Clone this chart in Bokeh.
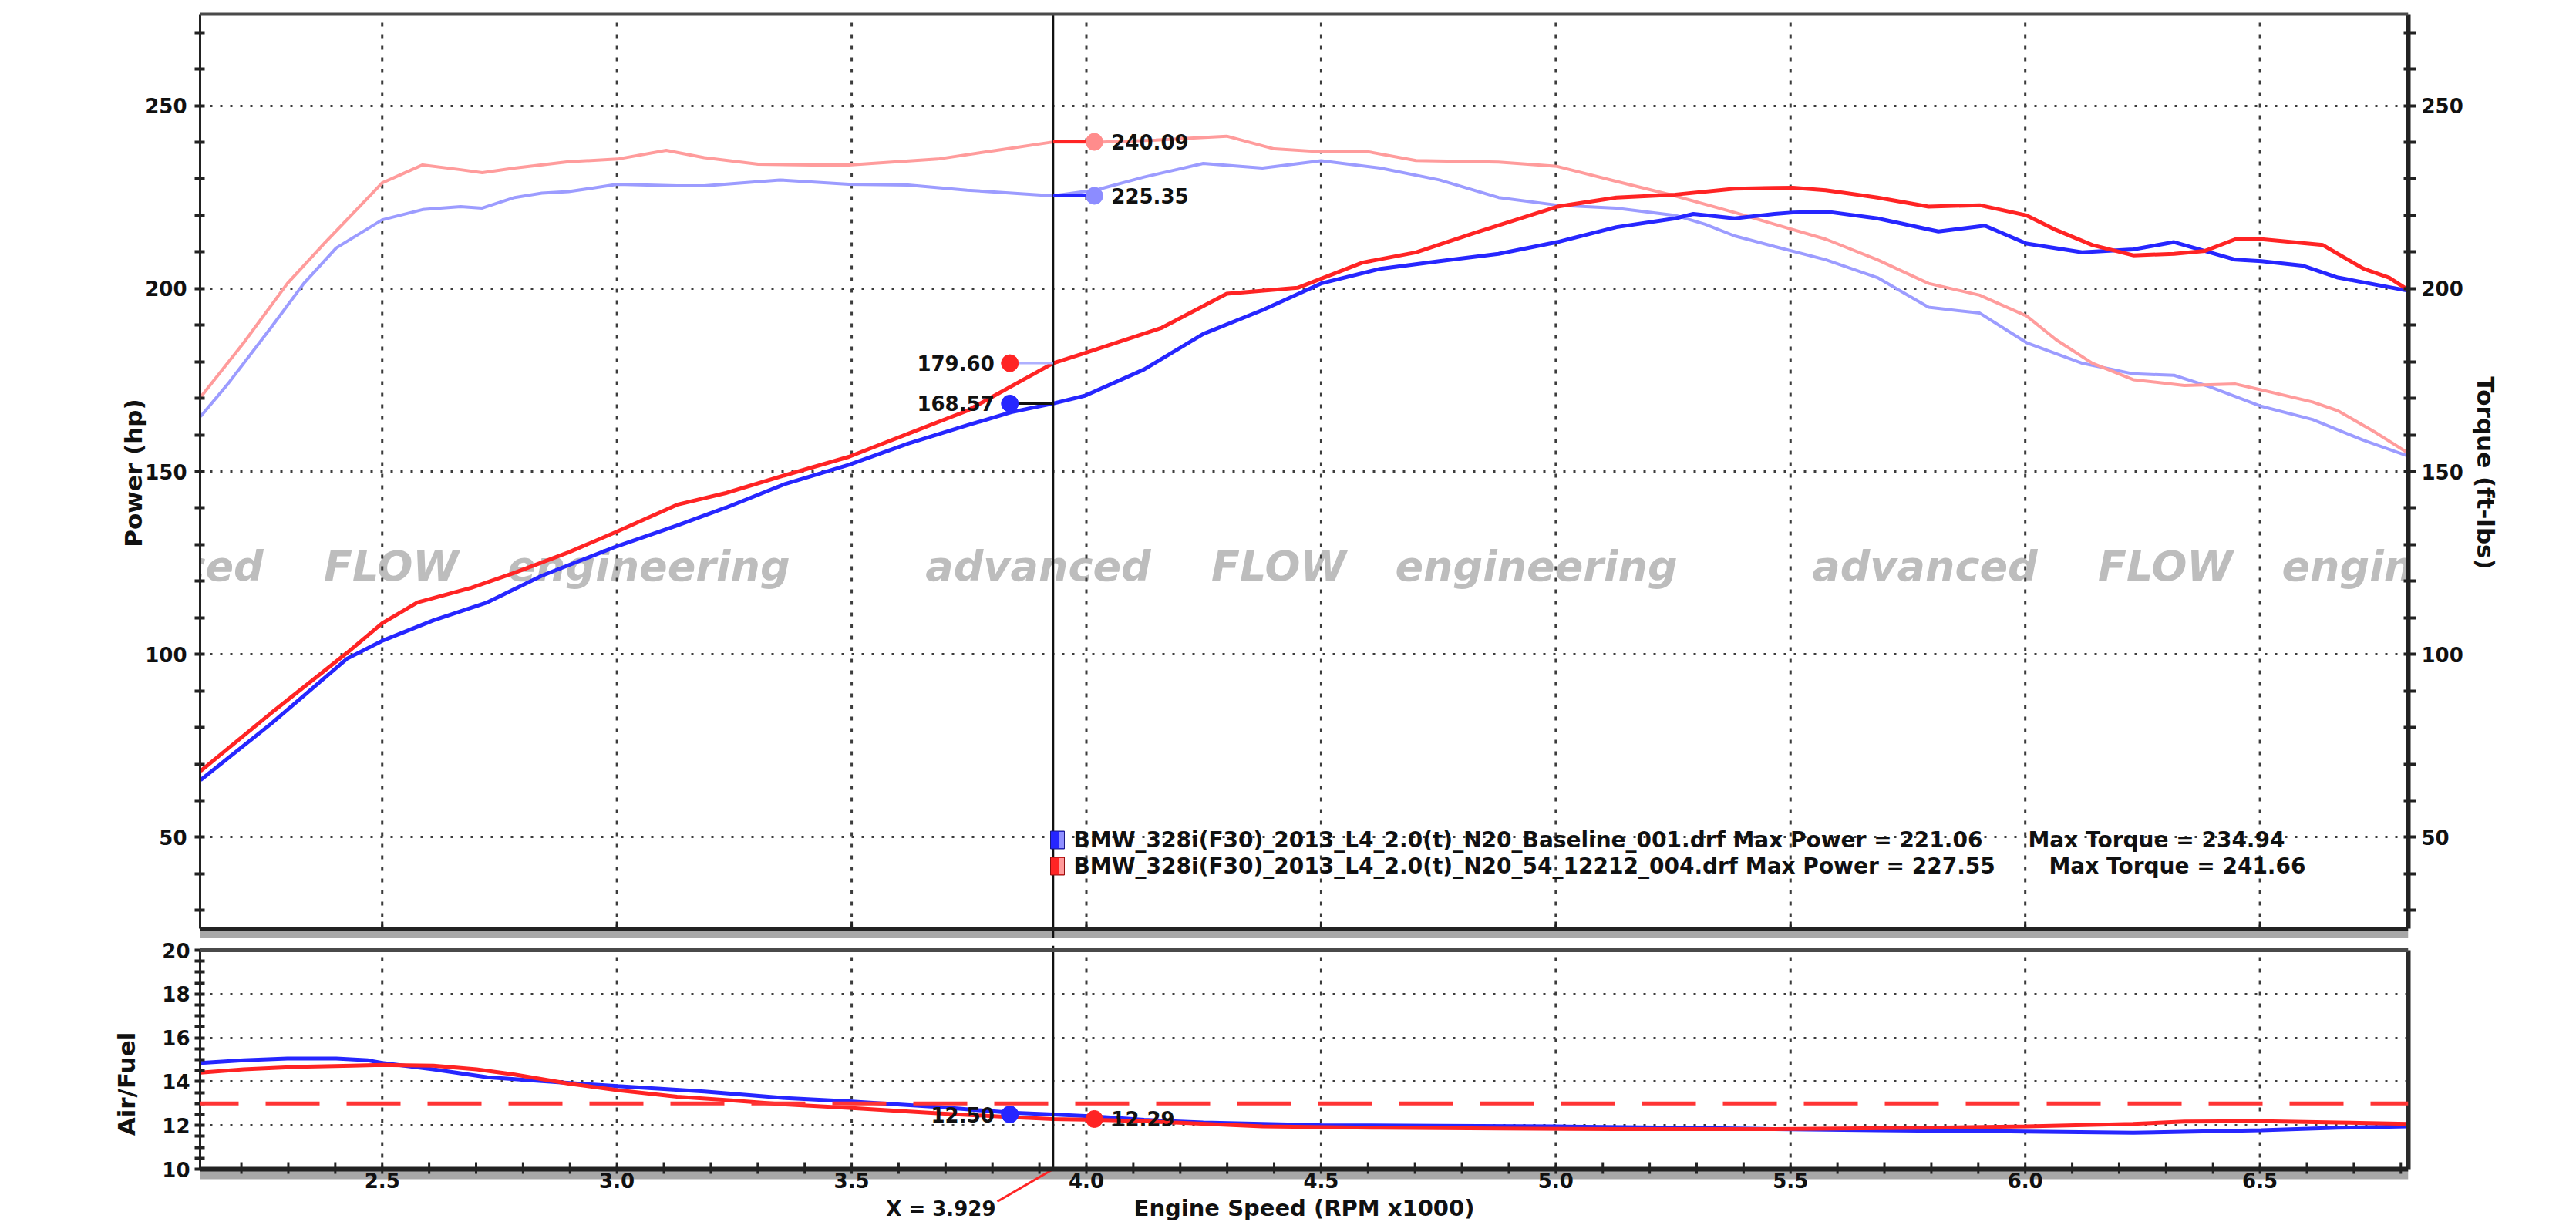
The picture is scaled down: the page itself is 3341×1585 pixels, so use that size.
from bokeh.plotting import figure
from bokeh.layouts import column
from bokeh.models import (Range1d, LinearAxis, FixedTicker, Span, Label, BoxAnnotation)
from bokeh.core.properties import value
from bokeh.embed import file_html
from bokeh.resources import INLINE

FONT = "DejaVu Sans"

# ---------------- data ----------------
rpm_hp_base = [2.113, 2.263, 2.425, 2.50, 2.609, 2.724, 2.840, 3.001, 3.128, 3.232, 3.359, 3.494,
               3.620, 3.746, 3.840, 3.929, 3.997, 4.123, 4.249, 4.375, 4.500, 4.626, 4.752, 4.878,
               5.003, 5.129, 5.255, 5.293, 5.381, 5.466, 5.505, 5.575, 5.685, 5.815, 5.914, 6.003,
               6.121, 6.230, 6.317, 6.448, 6.503, 6.590, 6.666, 6.816]
hp_base = [65.6, 81.0, 98.8, 103.7, 109.3, 114.2, 121.5, 129.6, 135.2, 140.1, 146.6, 151.8,
           157.6, 162.6, 166.2, 168.57, 170.7, 177.9, 187.6, 194.1, 201.4, 205.4, 207.5, 209.5,
           212.7, 216.8, 219.2, 220.4, 219.2, 220.4, 220.8, 221.06, 219.2, 215.6, 217.2, 212.3,
           209.9, 210.7, 212.7, 207.9, 207.5, 206.3, 203.0, 199.4]

rpm_hp_mod = [2.113, 2.263, 2.425, 2.50, 2.575, 2.690, 2.782, 2.897, 3.001, 3.128, 3.232, 3.359,
              3.494, 3.620, 3.746, 3.929, 3.997, 4.161, 4.299, 4.450, 4.588, 4.702, 4.827, 5.003,
              5.129, 5.255, 5.381, 5.466, 5.505, 5.575, 5.685, 5.794, 5.903, 6.003, 6.066, 6.143,
              6.230, 6.317, 6.383, 6.448, 6.503, 6.634, 6.721, 6.775, 6.816]
hp_mod = [68.1, 83.9, 100.4, 108.5, 114.2, 118.2, 122.3, 127.9, 133.6, 140.9, 144.1, 149.0,
          154.0, 160.3, 166.6, 179.60, 182.4, 189.3, 198.6, 200.2, 207.1, 209.9, 215.2, 222.4,
          224.9, 225.7, 227.3, 227.5, 227.55, 226.9, 224.9, 222.4, 222.8, 220.0, 216.0, 211.9,
          209.1, 209.5, 210.3, 213.5, 213.5, 211.9, 205.4, 203.0, 199.6]

rpm_tq_base = [2.113, 2.171, 2.263, 2.333, 2.402, 2.5, 2.586, 2.667, 2.713, 2.782, 2.840, 2.897,
               3.001, 3.128, 3.186, 3.347, 3.494, 3.620, 3.746, 3.929, 4.022, 4.123, 4.249, 4.375,
               4.500, 4.626, 4.752, 4.878, 5.003, 5.129, 5.255, 5.318, 5.381, 5.466, 5.575, 5.685,
               5.794, 5.903, 6.003, 6.121, 6.230, 6.317, 6.394, 6.503, 6.612, 6.721, 6.816]
tq_base = [165.0, 173.9, 189.3, 201.4, 211.1, 218.8, 221.6, 222.4, 222.0, 224.9, 226.1, 226.5,
           228.5, 228.1, 228.1, 229.7, 228.5, 228.3, 226.9, 225.35, 227.0, 230.5, 234.2, 232.95,
           234.94, 232.95, 229.7, 224.9, 222.8, 222.0, 220.0, 217.6, 214.4, 211.5, 207.9, 203.0,
           194.9, 193.3, 185.2, 179.6, 176.7, 176.3, 173.1, 167.8, 164.2, 158.5, 154.2]

rpm_tq_mod = [2.113, 2.205, 2.298, 2.379, 2.5, 2.586, 2.667, 2.713, 2.782, 2.897, 3.001, 3.105,
              3.186, 3.301, 3.416, 3.494, 3.683, 3.809, 3.929, 4.022, 4.148, 4.299, 4.400, 4.500,
              4.601, 4.702, 4.878, 5.003, 5.129, 5.255, 5.381, 5.466, 5.575, 5.685, 5.794, 5.903,
              6.003, 6.066, 6.143, 6.230, 6.339, 6.448, 6.503, 6.612, 6.666, 6.743, 6.816]
tq_mod = [170.3, 185.2, 201.4, 212.7, 228.9, 233.8, 232.5, 231.7, 232.95, 234.7, 235.4, 237.8,
          235.8, 234.0, 233.8, 233.8, 235.4, 237.8, 240.09, 240.0, 240.6, 241.66, 238.2, 237.4,
          237.4, 235.0, 234.6, 233.4, 229.3, 225.3, 220.8, 217.6, 213.5, 207.9, 201.4, 198.2,
          192.5, 186.0, 179.6, 175.1, 173.5, 173.9, 172.3, 169.0, 166.6, 160.9, 155.0]

rpm_afr_base = [2.113, 2.205, 2.298, 2.402, 2.47, 2.5, 2.609, 2.724, 2.840, 3.001, 3.186, 3.359,
                3.494, 3.683, 3.840, 3.929, 4.022, 4.123, 4.249, 4.500, 4.752, 5.003, 5.255, 5.466,
                5.685, 6.003, 6.230, 6.503, 6.666, 6.816]
afr_base = [14.85, 14.97, 15.05, 15.05, 14.97, 14.85, 14.56, 14.20, 14.02, 13.79, 13.55, 13.25,
            13.10, 12.84, 12.58, 12.50, 12.40, 12.25, 12.13, 12.01, 11.98, 11.95, 11.89, 11.83,
            11.78, 11.72, 11.66, 11.78, 11.89, 11.95]

rpm_afr_mod = [2.113, 2.205, 2.321, 2.436, 2.5, 2.609, 2.701, 2.782, 2.897, 3.001, 3.128, 3.243,
               3.359, 3.494, 3.683, 3.840, 3.929, 4.022, 4.123, 4.375, 4.626, 4.878, 5.129, 5.466,
               5.794, 6.003, 6.230, 6.339, 6.503, 6.666, 6.816]
afr_mod = [14.41, 14.56, 14.67, 14.73, 14.76, 14.73, 14.56, 14.32, 13.91, 13.61, 13.31, 13.14,
           12.96, 12.80, 12.55, 12.38, 12.29, 12.25, 12.19, 11.95, 11.89, 11.86, 11.83, 11.83,
           11.89, 11.95, 12.07, 12.17, 12.19, 12.13, 12.07]

afr_target = 13.0
cursor_x = 3.929
cursor_hp = [179.60, 168.57]          # modified run, baseline run
cursor_tq = [240.09, 225.35]          # modified run, baseline run
cursor_afr = [12.50, 12.29]           # baseline run, modified run

run_files = ["BMW_328i(F30)_2013_L4_2.0(t)_N20_Baseline_001.drf",
             "BMW_328i(F30)_2013_L4_2.0(t)_N20_54_12212_004.drf"]
max_power = [221.06, 227.55]
max_torque = [234.94, 241.66]

x_major = [2.5, 3.0, 3.5, 4.0, 4.5, 5.0, 5.5, 6.0, 6.5]
x_minor = [round(2.2 + 0.1 * i, 1) for i in range(47) if round(2.2 + 0.1 * i, 1) not in x_major]
power_major = [50, 100, 150, 200, 250]
power_minor = [30, 40, 60, 70, 80, 90, 110, 120, 130, 140, 160, 170, 180, 190,
               210, 220, 230, 240, 260, 270]
afr_major = [10, 12, 14, 16, 18, 20]
afr_minor = [10.5, 11, 11.5, 12.5, 13, 13.5, 14.5, 15, 15.5, 16.5, 17, 17.5, 18.5, 19, 19.5]
afr_grid = [12, 14, 16, 18]

X0, X1 = 2.112, 6.816
P0, P1 = 25, 275
A0, A1 = 10, 20

# ---------------- colours ----------------
RED = "#ff2424"
BLUE = "#2626ff"
LRED = "#ff9c9c"
LBLUE = "#9c9cff"
GRID = "#3c3c3c"
INK = "#111111"

# ---------------- layout (page pixels) ----------------
W = 3341
FRAME_L, FRAME_R = 259, 3123
TOP_T, TOP_B = 18, 1204          # power panel box
AFR_T, AFR_B = 1232, 1516        # air/fuel panel box
C1_T, C1_B = 10, 1216            # frame of figure 1 (slightly larger than the box)
C2_T, C2_B = 1226, 1585          # frame of figure 2 (includes the x-axis area)

PPU_P = (TOP_B - TOP_T) / (P1 - P0)
PPU_A = (AFR_B - AFR_T) / (A1 - A0)


def px2x(px):
    return X0 + (px - FRAME_L) * (X1 - X0) / (FRAME_R - FRAME_L)


def py2p(py):
    return P1 - (py - TOP_T) / PPU_P


def py2a(py):
    return A1 - (py - AFR_T) / PPU_A


def style_text(**kw):
    d = dict(text_font=value(FONT), text_font_style="bold", text_color=INK,
             text_font_size="26px")
    d.update(kw)
    return d


def style_axis(a, tick_out=7, tick_in=6, width=3):
    a.major_label_text_font = FONT
    a.major_label_text_font_style = "bold"
    a.major_label_text_font_size = "26px"
    a.major_label_text_color = INK
    a.axis_label_text_font = FONT
    a.axis_label_text_font_style = "bold"
    a.axis_label_text_font_size = "31px"
    a.axis_label_text_color = INK
    a.major_tick_in = tick_in
    a.major_tick_out = tick_out
    a.minor_tick_in = tick_in
    a.minor_tick_out = tick_out
    a.major_tick_line_width = 4
    a.minor_tick_line_width = 4
    a.major_tick_line_color = "#222222"
    a.minor_tick_line_color = "#222222"
    a.axis_line_width = width
    a.axis_line_color = "#222222"


# ================= power / torque panel =================
p1 = figure(frame_width=FRAME_R - FRAME_L, frame_height=C1_B - C1_T,
            min_border_left=FRAME_L, min_border_right=W - FRAME_R,
            min_border_top=C1_T, min_border_bottom=0,
            x_range=Range1d(X0, X1),
            y_range=Range1d(py2p(C1_B), py2p(C1_T)),
            x_axis_location=None,
            output_backend="svg", toolbar_location=None)
p1.extra_y_ranges = {"torque": Range1d(py2p(C1_B), py2p(C1_T))}
p1.outline_line_color = None
p1.background_fill_color = "white"
p1.border_fill_color = "white"

ya = p1.yaxis[0]
ya.ticker = FixedTicker(ticks=power_major, minor_ticks=power_minor)
ya.bounds = (P0, P1)
ya.axis_label = "Power (hp)"
style_axis(ya)
ya.major_label_standoff = 10
ya.axis_label_standoff = -6

yr = LinearAxis(y_range_name="torque", axis_label="Torque (ft-lbs)",
                ticker=FixedTicker(ticks=power_major, minor_ticks=power_minor))
yr.bounds = (P0, P1)
style_axis(yr, tick_out=10, width=6)
yr.major_label_standoff = 7
yr.axis_label_standoff = 8
p1.add_layout(yr, "right")

p1.xgrid.visible = False
p1.ygrid.ticker = FixedTicker(ticks=power_major)
p1.ygrid.grid_line_color = GRID
p1.ygrid.grid_line_width = 3
p1.ygrid.grid_line_dash = "3 10"
p1.segment(x0=x_major, y0=[P0] * len(x_major), x1=x_major, y1=[P1] * len(x_major),
           line_color=GRID, line_width=3, line_dash="5 10")

# panel box: top edge, bottom edge with shadow, ticks on the bottom edge
p1.add_layout(BoxAnnotation(bottom=py2p(C1_B), top=py2p(TOP_B + 2), fill_color="#a8a8a8",
                            fill_alpha=1.0, line_color=None, level="underlay"))
p1.add_layout(Span(location=P1, dimension="width", line_color="#4a4a4a", line_width=4))
p1.add_layout(Span(location=P0, dimension="width", line_color="#222222", line_width=5))
p1.segment(x0=x_major, y0=[P0] * len(x_major), x1=x_major,
           y1=[py2p(TOP_B - 9)] * len(x_major), line_color="#222222", line_width=3)

# watermark
for start in (17, 1168, 2318):
    for word, centre in (("advanced", 195), ("FLOW", 507), ("engineering", 841)):
        p1.add_layout(Label(x=px2x(start - 17 + centre), y=py2p(734), text=word,
                            text_font=FONT, text_font_style="bold italic",
                            text_font_size="54px", text_color="#bdbdbd",
                            text_align="center", text_baseline="alphabetic",
                            level="underlay"))

# curves
p1.line(rpm_tq_base, tq_base, y_range_name="torque", line_color=LBLUE, line_width=4)
p1.line(rpm_tq_mod, tq_mod, y_range_name="torque", line_color=LRED, line_width=4)
p1.line(rpm_hp_base, hp_base, line_color=BLUE, line_width=5)
p1.line(rpm_hp_mod, hp_mod, line_color=RED, line_width=5)

# cursor read-out
p1.segment(x0=[cursor_x], y0=[py2p(C1_B)], x1=[cursor_x], y1=[P1], line_color=INK, line_width=3)
xl = cursor_x - 0.092
xr = cursor_x + 0.088
p1.segment(x0=[xl, xl], y0=cursor_hp, x1=[cursor_x, cursor_x], y1=cursor_hp,
           line_color=["#aeb0ff", INK], line_width=3)
p1.segment(x0=[cursor_x, cursor_x], y0=cursor_tq, x1=[xr, xr], y1=cursor_tq,
           line_color=[RED, BLUE], line_width=4, y_range_name="torque")
p1.scatter([xl, xl], cursor_hp, size=22, color=[RED, BLUE])
p1.scatter([xr, xr], cursor_tq, size=22, color=["#ff8c8c", "#8c8cff"], y_range_name="torque")
p1.text([xl, xl], cursor_hp, text=[f"{v:.2f}" for v in cursor_hp], x_offset=-20,
        **style_text(text_align="right", text_baseline="middle"))
p1.text([xr, xr], cursor_tq, text=[f"{v:.2f}" for v in cursor_tq], x_offset=22,
        y_range_name="torque", **style_text(text_align="left", text_baseline="middle"))

# legend block
leg_y = [py2p(1089), py2p(1123)]
sw_x = px2x(1371)
p1.rect([sw_x, sw_x], leg_y, width=18, height=23, width_units="screen", height_units="screen",
        fill_color=[BLUE, RED], line_color=["#1a1a80", "#901010"], line_width=1)
p1.rect([px2x(1376), px2x(1376)], leg_y, width=7, height=21, width_units="screen",
        height_units="screen", fill_color=["#8f8fff", "#ff9a9a"], line_color=None)
p1.text([px2x(1392)] * 2, leg_y,
        text=[f"{f} Max Power = {mp:.2f}" for f, mp in zip(run_files, max_power)],
        **style_text(text_font_size="28px", text_align="left", text_baseline="middle"))
p1.text([px2x(2630), px2x(2657)], leg_y,
        text=[f"Max Torque = {mt:.2f}" for mt in max_torque],
        **style_text(text_font_size="28px", text_align="left", text_baseline="middle"))

# ================= air / fuel panel =================
p2 = figure(frame_width=FRAME_R - FRAME_L, frame_height=C2_B - C2_T,
            min_border_left=FRAME_L, min_border_right=W - FRAME_R,
            min_border_top=C2_T - C1_B, min_border_bottom=0,
            x_range=p1.x_range, y_range=Range1d(py2a(C2_B), py2a(C2_T)),
            x_axis_location=None,
            output_backend="svg", toolbar_location=None)
p2.outline_line_color = None
p2.border_fill_color = "white"
p2.background_fill_color = "white"

yb = p2.yaxis[0]
yb.ticker = FixedTicker(ticks=afr_major, minor_ticks=afr_minor)
yb.bounds = (A0, A1)
yb.axis_label = "Air/Fuel"
style_axis(yb)
yb.major_label_standoff = 6
yb.axis_label_standoff = 25

yb2 = LinearAxis(ticker=FixedTicker(ticks=[], minor_ticks=[]))
yb2.bounds = (A0, A1)
yb2.axis_line_width = 6
yb2.axis_line_color = "#2a2a2a"
yb2.major_tick_in = 0
yb2.major_tick_out = 0
yb2.minor_tick_in = 0
yb2.minor_tick_out = 0
p2.add_layout(yb2, "right")

p2.xgrid.visible = False
p2.ygrid.ticker = FixedTicker(ticks=afr_grid)
p2.ygrid.grid_line_color = GRID
p2.ygrid.grid_line_width = 3
p2.ygrid.grid_line_dash = "3 10"
p2.segment(x0=x_major, y0=[A0] * len(x_major), x1=x_major, y1=[A1] * len(x_major),
           line_color=GRID, line_width=3, line_dash="5 10")

# panel box and engine-speed axis
p2.add_layout(Span(location=A1, dimension="width", line_color="#4a4a4a", line_width=5))
p2.add_layout(BoxAnnotation(top=py2a(AFR_B + 2), bottom=py2a(AFR_B + 13), fill_color="#a8a8a8",
                            fill_alpha=1.0, line_color=None, level="underlay"))
p2.add_layout(Span(location=A0, dimension="width", line_color="#222222", line_width=6))
p2.segment(x0=x_major + x_minor, y0=[py2a(AFR_B + 6)] * (len(x_major) + len(x_minor)),
           x1=x_major + x_minor, y1=[py2a(AFR_B - 9)] * (len(x_major) + len(x_minor)),
           line_color="#222222", line_width=3)
p2.text(x_major, [py2a(AFR_B + 4)] * len(x_major), text=[f"{t:.1f}" for t in x_major],
        **style_text(text_align="center", text_baseline="top"))
p2.text([(X0 + X1) / 2], [py2a(1549)], text=["Engine Speed (RPM x1000)"],
        **style_text(text_font_size="29px", text_align="center", text_baseline="top"))

# target line and curves
p2.add_layout(Span(location=afr_target, dimension="width", line_color="#ff3434",
                   line_width=5, line_dash="70 35", line_dash_offset=20))
p2.line(rpm_afr_base, afr_base, line_color=BLUE, line_width=5)
p2.line(rpm_afr_mod, afr_mod, line_color=RED, line_width=5)

# cursor read-out
p2.segment(x0=[cursor_x], y0=[A0], x1=[cursor_x], y1=[py2a(C2_T)], line_color=INK, line_width=3)
p2.scatter([xl, xr], cursor_afr, size=22, color=[BLUE, RED])
p2.text([xl], [cursor_afr[0]], text=[f"{cursor_afr[0]:.2f}"], x_offset=-20,
        **style_text(text_align="right", text_baseline="middle"))
p2.text([xr], [cursor_afr[1]], text=[f"{cursor_afr[1]:.2f}"], x_offset=22,
        **style_text(text_align="left", text_baseline="middle"))
p2.segment(x0=[cursor_x], y0=[A0], x1=[px2x(1293)], y1=[py2a(1558)], line_color=RED, line_width=3)
p2.text([px2x(1291)], [py2a(1552)], text=[f"X = {cursor_x:.3f}"],
        **style_text(text_align="right", text_baseline="top"))

layout = column(p1, p2, spacing=0)
open("out.html", "w").write(file_html(layout, INLINE))
